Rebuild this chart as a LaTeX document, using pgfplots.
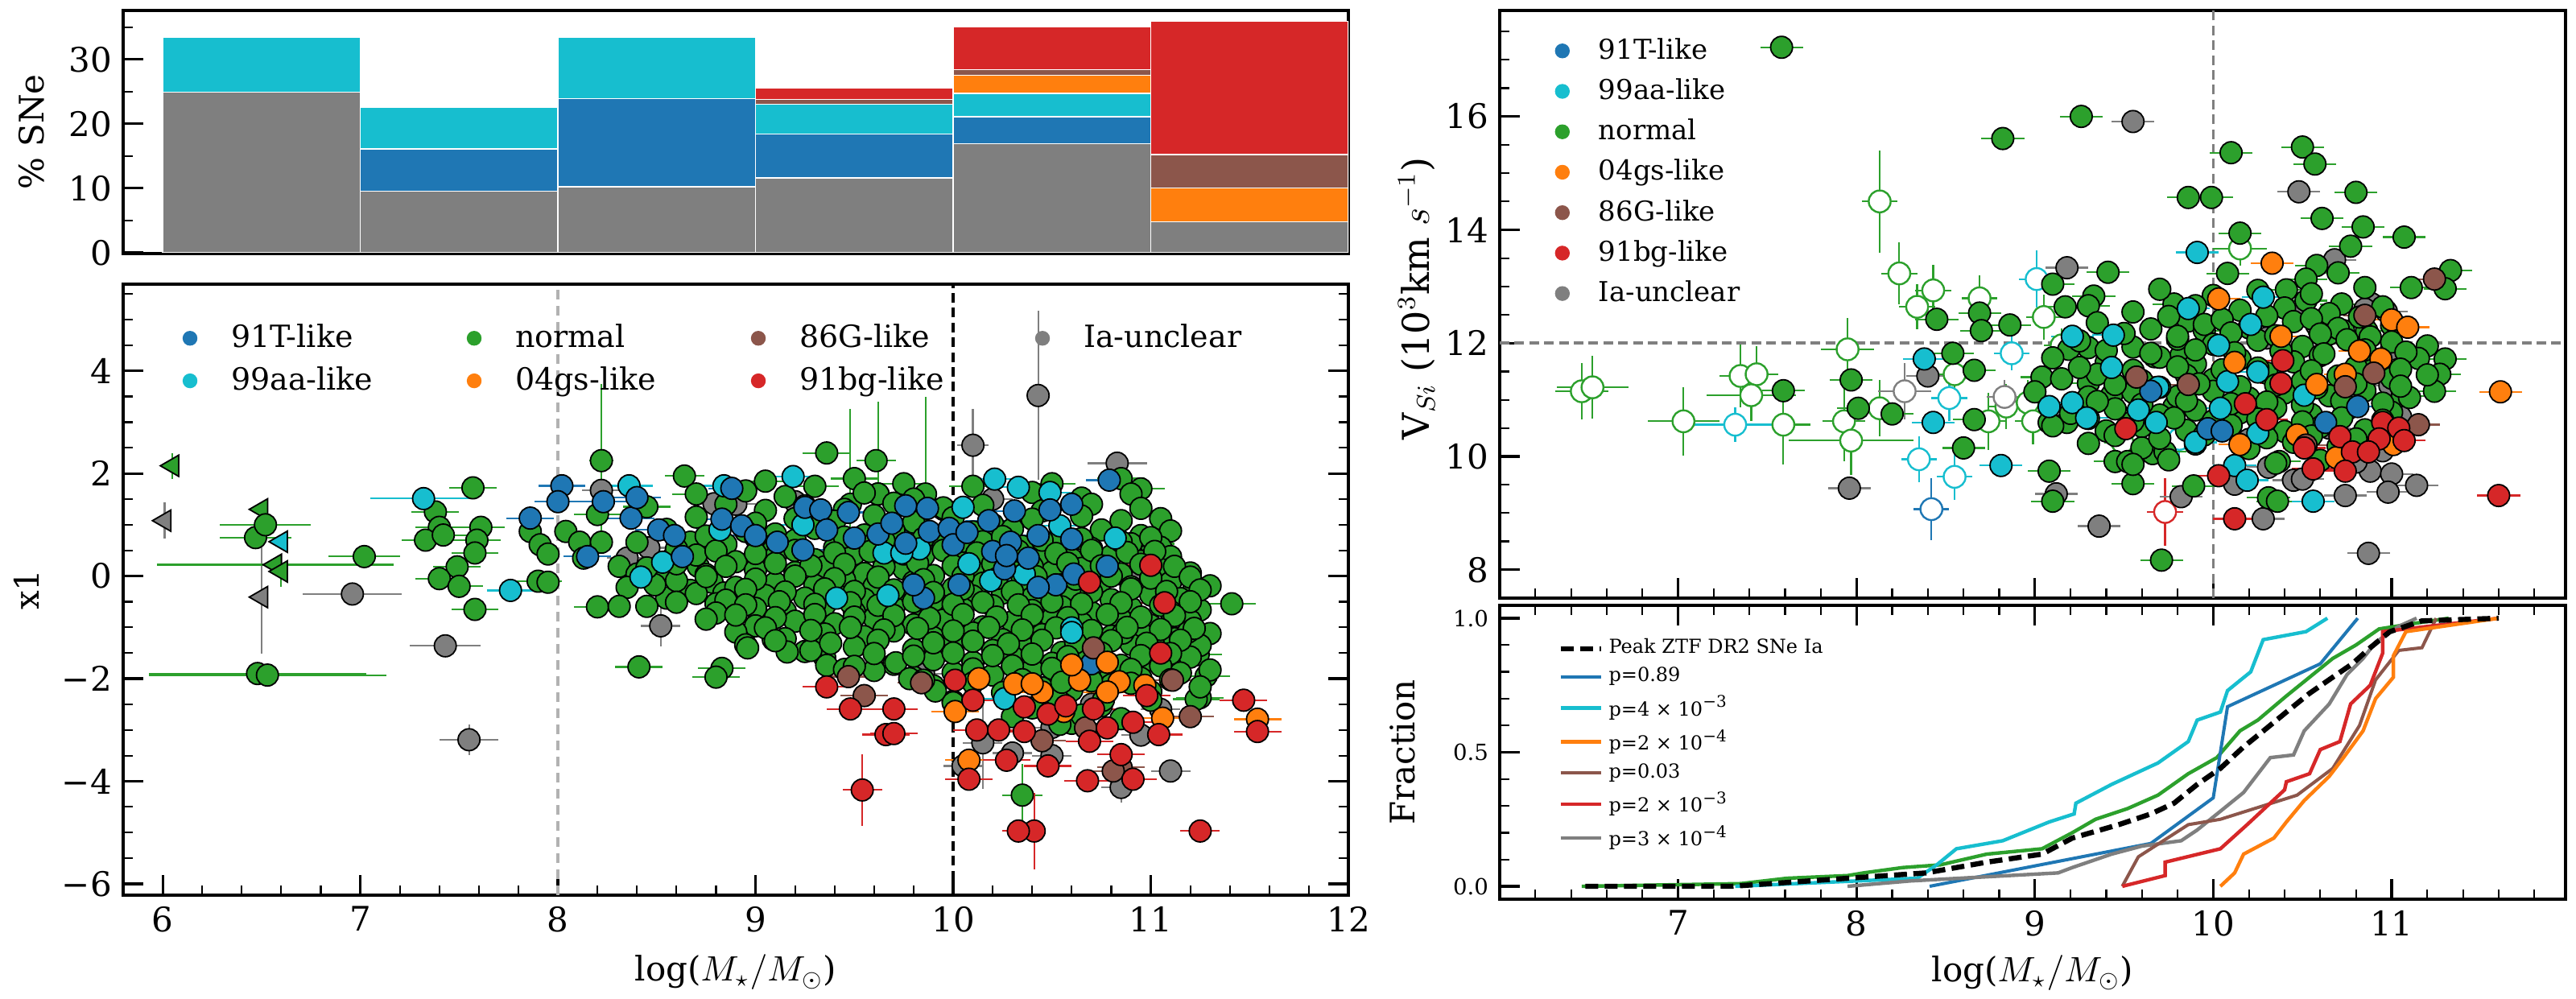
\documentclass[border=0pt]{standalone}
\usepackage{pgfplots}
\pgfplotsset{compat=1.18}
\usepackage{fontspec}
\setmainfont{DejaVu Serif}
\definecolor{c91T}{HTML}{1F77B4}
\definecolor{c99aa}{HTML}{17BECF}
\definecolor{cnorm}{HTML}{2CA02C}
\definecolor{c04gs}{HTML}{FF7F0E}
\definecolor{c86G}{HTML}{8C564B}
\definecolor{c91bg}{HTML}{D62728}
\definecolor{cunc}{HTML}{7F7F7F}
\pgfplotsset{
  base/.style={scale only axis, anchor=south west, axis line style={line width=1.1pt},
    tick align=inside, major tick length=6.2pt, minor tick length=3.1pt,
    every major tick/.append style={line width=0.8pt, black},
    every minor tick/.append style={line width=0.55pt, black},
    tick label style={font=\fontsize{10.5}{12}\selectfont},
    label style={font=\fontsize{10.5}{12}\selectfont},
    legend cell align=left,
    /pgf/number format/assume math mode=true},
  pts/.style={only marks, mark=*, mark size=3.4pt, color=#1, forget plot,
    mark options={draw=black, fill=#1, line width=0.45pt, solid}},
  ptsX/.style={only marks, mark=*, mark size=3.4pt, color=#1, forget plot,
    mark options={draw=black, fill=#1, line width=0.45pt, solid},
    error bars/.cd, x dir=both, x fixed=0.12, error mark=none,
    error bar style={color=#1, line width=0.55pt}},
  ptsE/.style={only marks, mark=*, mark size=3.4pt, color=#1, forget plot,
    mark options={draw=black, fill=#1, line width=0.45pt, solid},
    error bars/.cd, x dir=both, y dir=both, x explicit, y explicit, error mark=none,
    error bar style={color=#1, line width=0.55pt}},
  triE/.style={only marks, mark=triangle*, mark size=3.8pt, color=#1, forget plot,
    mark options={draw=black, fill=#1, line width=0.45pt, solid, rotate=90},
    error bars/.cd, x dir=both, y dir=both, x explicit, y explicit, error mark=none,
    error bar style={color=#1, line width=0.55pt}},
  opn/.style={only marks, mark=*, mark size=3.4pt, color=#1, forget plot,
    mark options={draw=#1, fill=white, line width=0.6pt, solid},
    error bars/.cd, x dir=both, y dir=both, x explicit, y explicit, error mark=none,
    error bar style={color=#1, line width=0.55pt}},
  dl/.style={legend image code/.code={\path[draw=none,fill=none] (0pt,-2.5pt) rectangle (10pt,2.5pt); \fill[#1,draw=none] (5pt,0pt) circle (2.3pt);}},
}
\begin{document}
\begin{tikzpicture}
\useasboundingbox (0,0) rectangle (800pt,310.25pt);
% ---------------- bar panel
\begin{axis}[base, at={(38.25pt,231.5pt)}, width=380.5pt, height=75.5pt,
  xmin=5.8, xmax=12, ymin=-0.15, ymax=37.6, xtick=\empty,
  ytick={0,10,20,30}, minor ytick={5,15,25,35}, ytick pos=both, yticklabel pos=left,
  ylabel={\% SNe}, ylabel style={at={(axis description cs:-0.075,0.5)}, anchor=center},
  ybar stacked, bar width=1]
\addplot[fill=cunc, draw=white, line width=0.35pt] coordinates {(6.5,24.9) (7.5,9.5) (8.5,10.2) (9.5,11.6) (10.5,16.9) (11.5,4.8)};
\addplot[fill=c91T, draw=white, line width=0.35pt] coordinates {(6.5,0) (7.5,6.6) (8.5,13.7) (9.5,6.8) (10.5,4.2) (11.5,0)};
\addplot[fill=c99aa, draw=white, line width=0.35pt] coordinates {(6.5,8.5) (7.5,6.5) (8.5,9.5) (9.5,4.6) (10.5,3.6) (11.5,0)};
\addplot[fill=c04gs, draw=white, line width=0.35pt] coordinates {(6.5,0) (7.5,0) (8.5,0) (9.5,0) (10.5,2.8) (11.5,5.2)};
\addplot[fill=c86G, draw=white, line width=0.35pt] coordinates {(6.5,0) (7.5,0) (8.5,0) (9.5,0.8) (10.5,0.9) (11.5,5.2)};
\addplot[fill=c91bg, draw=white, line width=0.35pt] coordinates {(6.5,0) (7.5,0) (8.5,0) (9.5,1.7) (10.5,6.6) (11.5,20.7)};
\end{axis}
% ---------------- x1 vs mass
\begin{axis}[base, at={(38.25pt,32.25pt)}, width=380.5pt, height=189.75pt,
  xmin=5.8, xmax=12, ymin=-6.22, ymax=5.69,
  xtick={6,...,12}, minor xtick={6,6.2,...,12}, xtick pos=bottom,
  ytick={-6,-4,-2,0,2,4}, yticklabels={−6,−4,−2,0,2,4}, minor ytick={-5.5,-5,...,5.5}, ytick pos=both, yticklabel pos=left,
  xlabel={log($M_\star/M_\odot$)}, xlabel style={at={(axis description cs:0.5,0)}, yshift=-24pt, anchor=center},
  ylabel={x1}, ylabel style={at={(axis description cs:-0.079,0.5)}, anchor=center},
  legend columns=4,
  legend style={at={(axis description cs:0.033,0.946)}, anchor=north west, draw=none, fill=none,
    font=\fontsize{9.5}{11}\selectfont, nodes={inner sep=0pt}, row sep=4.5pt,
    /tikz/every odd column/.append style={column sep=7.75pt},
    /tikz/every even column/.append style={column sep=10.5pt}}]
\addplot[forget plot, densely dashed, color=black!30, line width=1pt] coordinates {(8,-6.22) (8,5.69)};
\addplot[forget plot, dash pattern=on 3pt off 1.6pt, color=black, line width=1pt] coordinates {(10,-6.22) (10,5.69)};
% gray
\addplot[ptsE=cunc] coordinates {(6.96,-0.35) +- (0.25,0.1) (7.43,-1.36) +- (0.18,0.1) (7.55,-3.19) +- (0.15,0.3) (8.22,1.67) +- (0.1,0.1) (8.46,0.55) +- (0.1,0.1) (8.35,0.35) +- (0.1,0.1) (8.52,-0.97) +- (0.1,0.4) (8.79,1.41) +- (0.1,0.1) (9.62,1.6) +- (0.1,0.1) (9.82,1.5) +- (0.1,0.1) (10.1,2.55) +- (0.08,0.7) (10.83,2.2) +- (0.15,0.2) (10.85,-4.12) +- (0.1,0.3) (10.15,-3.25) +- (0.1,0.9) (10.95,-3.1) +- (0.1,0.2) (10.5,-2.95) +- (0.1,0.2) (10.3,-3.45) +- (0.1,0.2) (9.85,-1.9) +- (0.1,0.2) (10.2,1.5) +- (0.1,0.2) (10.9,-0.1) +- (0.1,0.2) (11.05,-2.6) +- (0.1,0.2) (10.7,-2.5) +- (0.1,0.2) (9.2,1.45) +- (0.1,0.2) (10.05,-3.7) +- (0.1,0.2) (10.5,-3.5) +- (0.1,0.2) (11.1,-3.8) +- (0.1,0.2) (10.92,-1.0) +- (0.1,0.2) (9.95,1.3) +- (0.1,0.2) (8.9,1.4) +- (0.1,0.2) (10.43,3.52) +- (0.06,1.65)};
\addplot[triE=cunc] coordinates {(6.01,1.08) +- (0,0.35) (6.5,-0.41) +- (0,1.1)};
% green
\addplot[triE=cnorm] coordinates {(6.05,2.15) +- (0,0.25) (6.5,1.3) +- (0,0.1) (6.57,0.22) +- (0.6,0.1) (6.6,0.09) +- (0,0.3)};
\addplot[ptsE=cnorm] coordinates {(6.47,0.75) +- (0.18,0.1) (6.52,1.0) +- (0.23,0.1) (7.02,0.38) +- (0.18,0.1) (6.48,-1.9) +- (0.55,0.1) (6.53,-1.93) +- (0.6,0.1) (8.22,2.25) +- (0.06,1.5) (9.48,1.4) +- (0.05,1.85) (9.62,1.6) +- (0.05,1.8) (9.86,1.6) +- (0.05,1.9) (9.36,2.4) +- (0.12,0.15) (9.61,2.25) +- (0.1,0.15) (8.64,1.95) +- (0.1,0.15) (10.35,-4.27) +- (0.1,0.6)};
\addplot[ptsX=cnorm] coordinates {(7.57,1.72) (7.38,1.25) (7.4,0.95) (7.33,0.7) (7.42,0.8) (7.61,0.95) (7.59,0.7) (7.58,0.45) (7.49,0.18) (7.4,-0.05) (7.5,-0.2) (7.58,-0.65) (7.9,-0.1) (8.2,-0.6) (8.41,-1.77) (8.83,-1.8) (8.8,-1.97) (11.41,-0.54) (11.22,-0.23) (11.0,0.63) (11.24,-1.53) (11.28,-1.95) (11.25,-2.37) (11.23,-2.4) (9.05,1.85) (9.3,1.75) (9.75,1.8) (10.1,1.75) (10.5,1.8) (10.85,1.9) (10.95,1.7) (9.5,1.9) (8.7,1.6) (8.45,1.35) (8.2,1.2)};
\addplot[pts=cnorm] coordinates {(7.86,0.87) (7.91,0.61) (7.95,0.43) (8.04,0.87) (8.11,0.66) (8.13,0.35) (8.22,0.66) (8.31,0.19) (8.4,0.04) (8.51,0.09) (8.58,0.35) (8.67,0.66) (8.71,0.19) (8.78,-0.12) (8.84,-0.33) (8.8,-0.54) (8.67,-0.28) (8.55,-0.43) (8.49,-0.17) (8.35,-0.22) (8.31,-0.59) (7.95,-0.12)
(8.95,1.66) (9.15,1.55) (9.55,1.62) (9.8,1.5) (10.4,1.63) (10.65,1.52) (10.9,1.6)
(8.85,1.4) (9.05,1.28) (9.25,1.37) (9.45,1.3) (9.7,1.42) (9.95,1.33) (10.15,1.38) (10.45,1.27) (10.7,1.4) (10.95,1.32)
(8.7,1.15) (9.0,1.03) (9.2,1.12) (9.4,1.07) (9.6,1.18) (9.8,1.05) (10.0,1.14) (10.2,1.01) (10.4,1.11) (10.65,1.17) (10.85,1.08) (11.05,1.12)
(8.55,0.91) (8.75,0.78) (8.95,0.87) (9.1,0.82) (9.3,0.93) (9.55,0.8) (9.7,0.89) (9.9,0.76) (10.1,0.86) (10.3,0.92) (10.55,0.83) (10.75,0.9) (10.95,0.79) (11.1,0.88)
(8.4,0.66) (8.6,0.53) (8.85,0.62) (9.05,0.57) (9.2,0.68) (9.4,0.55) (9.6,0.64) (9.8,0.51) (9.95,0.61) (10.15,0.67) (10.35,0.58) (10.5,0.65) (10.7,0.54) (10.9,0.63) (11.05,0.56)
(8.7,0.41) (8.9,0.28) (9.1,0.37) (9.3,0.32) (9.5,0.43) (9.65,0.3) (9.85,0.39) (10.05,0.26) (10.2,0.36) (10.45,0.42) (10.6,0.33) (10.8,0.4) (10.95,0.29) (11.1,0.38)
(8.45,0.16) (8.75,0.03) (9.0,0.12) (9.2,0.07) (9.35,0.18) (9.55,0.05) (9.75,0.14) (9.9,0.01) (10.1,0.11) (10.3,0.17) (10.5,0.08) (10.65,0.15) (10.85,0.04) (11.05,0.13) (11.2,0.06)
(8.6,-0.09) (8.9,-0.22) (9.1,-0.13) (9.3,-0.18) (9.45,-0.07) (9.6,-0.2) (9.8,-0.11) (10.0,-0.24) (10.15,-0.14) (10.35,-0.08) (10.55,-0.17) (10.75,-0.1) (10.9,-0.21) (11.1,-0.12) (11.3,-0.19)
(8.7,-0.34) (8.85,-0.47) (9.05,-0.38) (9.25,-0.43) (9.4,-0.32) (9.55,-0.45) (9.75,-0.36) (9.9,-0.49) (10.1,-0.39) (10.25,-0.33) (10.4,-0.42) (10.6,-0.35) (10.8,-0.46) (11.0,-0.37) (11.15,-0.44)
(8.45,-0.59) (8.8,-0.72) (9.0,-0.63) (9.15,-0.68) (9.35,-0.57) (9.5,-0.7) (9.7,-0.61) (9.85,-0.74) (10.05,-0.64) (10.2,-0.58) (10.4,-0.67) (10.55,-0.6) (10.7,-0.71) (10.9,-0.62) (11.1,-0.69) (11.25,-0.66)
(8.75,-0.84) (9.0,-0.97) (9.2,-0.88) (9.4,-0.93) (9.6,-0.82) (9.8,-0.95) (9.95,-0.86) (10.15,-0.99) (10.3,-0.89) (10.5,-0.83) (10.65,-0.92) (10.85,-0.85) (11.0,-0.96) (11.2,-0.87)
(8.9,-1.09) (9.15,-1.22) (9.35,-1.13) (9.55,-1.18) (9.7,-1.07) (9.9,-1.2) (10.1,-1.11) (10.25,-1.24) (10.45,-1.14) (10.6,-1.08) (10.8,-1.17) (10.95,-1.1) (11.15,-1.21) (11.3,-1.12)
(8.95,-1.34) (9.25,-1.47) (9.5,-1.38) (9.8,-1.43) (10.0,-1.32) (10.2,-1.45) (10.35,-1.36) (10.55,-1.49) (10.7,-1.39) (10.9,-1.33) (11.05,-1.42) (11.25,-1.35)
(9.35,-1.59) (9.7,-1.72) (9.9,-1.63) (10.1,-1.68) (10.3,-1.57) (10.5,-1.7) (10.65,-1.61) (10.85,-1.74) (11.0,-1.64) (11.2,-1.58)
(9.6,-1.84) (9.8,-1.97) (10.0,-1.88) (10.2,-1.93) (10.4,-1.82) (10.6,-1.95) (10.75,-1.86) (10.95,-1.99) (11.15,-1.89) (11.3,-1.83)
(9.9,-2.14) (10.25,-2.27) (10.45,-2.18) (10.6,-2.23) (10.8,-2.12) (11.0,-2.25) (11.25,-2.16)
(10.0,-2.44) (10.4,-2.57) (10.55,-2.48) (10.75,-2.53) (11.0,-2.42)
(10.3,-2.74) (10.6,-2.87) (10.85,-2.78)
(8.96,-1.4) (9.09,-1.24) (9.16,-1.48) (9.28,-1.45) (9.36,-1.74) (9.45,-1.82) (9.71,-1.69) (9.78,-2.0) (9.91,-2.24) (10.0,-2.47) (10.52,-2.32) (10.54,-2.89) (10.65,-2.71) (10.76,-2.42) (10.86,-1.11) (11.12,-1.22) (11.19,-1.09)
(9.0,0.75) (9.2,0.7) (9.45,0.76) (9.65,0.69) (9.85,0.74) (10.05,0.68) (10.25,0.77) (10.45,0.7) (10.65,0.73) (10.85,0.67) (11.0,0.75)
(8.8,0.49) (9.0,0.44) (9.2,0.5) (9.4,0.45) (9.58,0.48) (9.75,0.43) (9.95,0.5) (10.12,0.45) (10.33,0.49) (10.52,0.44) (10.7,0.5) (10.88,0.46) (11.02,0.48)
(8.6,0.24) (8.85,0.19) (9.1,0.25) (9.28,0.2) (9.45,0.23) (9.65,0.18) (9.82,0.25) (10.0,0.2) (10.2,0.24) (10.4,0.19) (10.58,0.25) (10.75,0.2) (10.95,0.23) (11.12,0.19)
(8.75,-0.01) (9.0,-0.06) (9.2,0.0) (9.4,-0.05) (9.62,-0.02) (9.85,-0.07) (10.05,0.0) (10.22,-0.05) (10.42,-0.01) (10.62,-0.06) (10.8,0.0) (11.0,-0.04) (11.2,-0.02)
(8.95,-0.26) (9.15,-0.31) (9.35,-0.25) (9.5,-0.3) (9.7,-0.27) (9.9,-0.32) (10.05,-0.25) (10.3,-0.3) (10.5,-0.26) (10.7,-0.31) (10.9,-0.25) (11.08,-0.3) (11.25,-0.27)
(8.6,-0.51) (8.95,-0.56) (9.12,-0.5) (9.3,-0.55) (9.48,-0.52) (9.62,-0.57) (9.8,-0.5) (10.0,-0.55) (10.15,-0.51) (10.33,-0.56) (10.5,-0.5) (10.65,-0.54) (10.85,-0.52) (11.05,-0.57) (11.2,-0.5)
(8.9,-0.76) (9.1,-0.81) (9.3,-0.75) (9.5,-0.8) (9.7,-0.77) (9.88,-0.82) (10.05,-0.75) (10.22,-0.8) (10.4,-0.76) (10.58,-0.81) (10.78,-0.75) (10.95,-0.8) (11.12,-0.77)
(9.05,-1.01) (9.28,-1.06) (9.48,-1.0) (9.65,-1.05) (9.82,-1.02) (10.0,-1.07) (10.18,-1.0) (10.35,-1.05) (10.52,-1.01) (10.7,-1.06) (10.88,-1.0) (11.05,-1.04) (11.22,-1.02)
(9.1,-1.26) (9.38,-1.31) (9.62,-1.25) (9.9,-1.3) (10.1,-1.27) (10.28,-1.32) (10.45,-1.25) (10.62,-1.3) (10.8,-1.26) (10.98,-1.31) (11.15,-1.25)
(9.6,-1.51) (9.8,-1.56) (10.0,-1.5) (10.2,-1.55) (10.4,-1.52) (10.58,-1.57) (10.75,-1.5) (10.95,-1.55) (11.1,-1.51)
(9.5,-1.76) (10.1,-1.81) (10.3,-1.75) (10.5,-1.8) (10.7,-1.77) (10.9,-1.82) (11.05,-1.75)
(9.85,-2.03) (10.1,-2.08) (10.35,-2.02) (10.55,-2.07) (10.7,-2.04) (10.9,-2.09) (11.1,-2.02)};
% cyan
\addplot[triE=c99aa] coordinates {(6.6,0.67) +- (0,0.1)};
\addplot[ptsE=c99aa] coordinates {(7.32,1.51) +- (0.27,0.1)};
\addplot[ptsX=c99aa] coordinates {(7.76,-0.28) (8.36,1.76) (8.42,-0.02) (8.53,0.27) (9.19,1.94) (8.84,1.76) (9.65,0.45) (9.67,-0.38) (9.41,-0.43) (10.05,1.34) (9.83,0.53) (9.74,0.45) (10.08,0.24) (10.21,1.89) (10.33,1.73) (10.49,1.63) (10.54,0.98) (10.82,0.74) (10.36,0.04) (10.6,-1.01) (10.19,-0.09) (9.24,1.0) (8.82,0.9) (10.26,-2.39) (10.6,-1.1)};
% blue
\addplot[ptsX=c91T] coordinates {(8.02,1.76) (8.0,1.45) (7.86,1.13) (8.15,0.38) (8.23,1.45) (8.37,1.13) (8.40,1.53) (8.51,0.90) (8.59,0.79) (8.63,0.38) (8.83,1.11) (8.88,1.71) (8.93,0.98) (9.0,0.79) (9.11,0.66) (9.24,0.51) (9.25,1.34) (9.33,1.29) (9.36,0.90) (9.47,1.24) (9.50,0.74) (9.62,0.82) (9.69,1.03) (9.76,1.37) (9.76,0.64) (9.87,1.32) (9.88,0.87) (9.98,0.93) (10.0,0.61) (10.07,0.85) (10.18,1.08) (10.2,0.48) (10.26,0.14) (10.29,0.66) (10.31,1.27) (10.38,0.35) (10.43,0.79) (10.49,1.29) (10.52,-0.17) (10.6,1.40) (10.6,0.72) (10.61,0.04) (10.78,0.19) (10.79,1.87) (10.03,-0.17) (9.85,-0.43) (9.8,-0.17) (10.43,-0.22) (10.27,0.40) (10.7,-1.71)};
% brown
\addplot[ptsX=c86G] coordinates {(9.47,-1.96) (9.55,-2.33) (9.84,-2.08) (10.45,-3.21) (10.67,-2.96) (11.2,-2.74) (11.11,-2.03) (10.71,-1.4) (10.85,-3.73) (10.81,-3.8)};
% orange
\addplot[ptsX=c04gs] coordinates {(10.01,-2.64) (10.13,-2.0) (10.31,-2.1) (10.45,-2.26) (10.56,-2.64) (11.06,-2.77) (10.97,-2.13) (10.84,-2.06) (10.78,-1.68) (10.64,-2.03) (10.6,-1.73) (10.78,-2.26) (10.08,-3.59) (11.54,-2.79) (10.4,-2.1)};
% red
\addplot[ptsE=c91bg] coordinates {(9.54,-4.17) +- (0.1,0.7) (10.41,-4.97) +- (0.05,0.75) (10.33,-4.97) +- (0.08,0.1) (11.25,-4.97) +- (0.1,0.1)};
\addplot[ptsX=c91bg] coordinates {(11.0,0.21) (11.07,-0.52) (10.69,-0.12) (11.05,-1.5) (9.36,-2.16) (9.48,-2.59) (9.7,-2.59) (9.66,-3.09) (9.7,-3.07) (10.08,-3.96) (10.27,-3.59) (10.48,-3.7) (10.68,-3.99) (10.91,-3.96) (10.85,-3.48) (10.36,-3.03) (10.23,-3.0) (10.12,-3.0) (10.1,-2.42) (10.01,-2.03) (10.36,-2.55) (10.48,-2.69) (10.69,-3.22) (10.78,-2.96) (10.91,-2.85) (11.04,-3.09) (10.98,-2.33) (10.71,-2.59) (10.57,-2.53) (11.47,-2.42) (11.54,-3.03)};
\addlegendimage{dl=c91T}\addlegendentry{\makebox[60pt][l]{91T-like}}
\addlegendimage{dl=cnorm}\addlegendentry{\makebox[60pt][l]{normal}}
\addlegendimage{dl=c86G}\addlegendentry{\makebox[60pt][l]{86G-like}}
\addlegendimage{dl=cunc}\addlegendentry{\makebox[60pt][l]{Ia-unclear}}
\addlegendimage{dl=c99aa}\addlegendentry{\makebox[60pt][l]{99aa-like}}
\addlegendimage{dl=c04gs}\addlegendentry{\makebox[60pt][l]{04gs-like}}
\addlegendimage{dl=c91bg}\addlegendentry{\makebox[60pt][l]{91bg-like}}
\end{axis}
% ---------------- V_Si vs mass
\begin{axis}[base, at={(465.75pt,124.5pt)}, width=331pt, height=182.5pt,
  xmin=6.0, xmax=11.975, ymin=7.5, ymax=17.87,
  xtick={7,...,11}, xticklabels={}, minor xtick={6,6.2,...,12}, xtick pos=bottom,
  ytick={8,10,...,16}, minor ytick={7.5,8,...,17.5}, ytick pos=left,
  ylabel={V$_{Si}$ (10$^3$km $s^{-1}$)}, ylabel style={font=\fontsize{11.5}{13}\selectfont, at={(axis description cs:-0.078,0.51)}, anchor=center},
  legend columns=1,
  legend style={at={(axis description cs:0.034,0.965)}, anchor=north west, draw=none, fill=none,
    font=\fontsize{8.5}{10}\selectfont, nodes={inner sep=0pt}, row sep=4.6pt,
    /tikz/every odd column/.append style={column sep=6.25pt}}]
\addplot[forget plot, dash pattern=on 3pt off 1.6pt, color=cunc, line width=0.9pt] coordinates {(10,7.5) (10,17.87)};
\addplot[forget plot, dash pattern=on 3pt off 1.6pt, color=cunc, line width=0.9pt] coordinates {(6,12) (11.975,12)};
% open
\addplot[opn=cnorm] coordinates {(6.46,11.15) +- (0.15,0.5) (6.52,11.22) +- (0.2,0.55) (7.03,10.62) +- (0.2,0.6) (7.35,11.42) +- (0.12,0.55) (7.44,11.45) +- (0.12,0.5) (7.41,11.08) +- (0.25,0.45) (7.59,10.56) +- (0.15,0.7) (7.95,11.89) +- (0.15,0.55) (7.93,10.62) +- (0.12,0.7) (7.97,10.28) +- (0.35,0.6) (8.13,14.5) +- (0.1,0.9) (8.24,13.23) +- (0.1,0.55) (8.43,12.93) +- (0.1,0.45) (8.34,12.64) +- (0.1,0.4) (8.69,12.79) +- (0.1,0.4) (9.05,12.46) +- (0.1,0.4) (8.55,11.45) +- (0.1,0.4) (8.74,10.62) +- (0.1,0.5) (8.84,10.88) +- (0.1,0.4) (8.96,10.95) +- (0.1,0.4) (8.99,10.62) +- (0.1,0.4) (8.13,10.85) +- (0.1,0.5) (10.15,13.67) +- (0.15,0.3) (9.49,10.25) +- (0.1,0.3) (9.15,11.96) +- (0.1,0.3)};
\addplot[opn=c99aa] coordinates {(7.32,10.56) +- (0.25,0.3) (9.01,13.13) +- (0.1,0.5) (8.87,11.82) +- (0.1,0.3) (8.52,11.03) +- (0.1,0.4) (8.35,9.95) +- (0.1,0.4) (8.55,9.64) +- (0.1,0.4) (9.81,10.31) +- (0.1,0.3)};
\addplot[opn=c91T] coordinates {(8.42,9.07) +- (0.1,0.55)};
\addplot[opn=cunc] coordinates {(8.27,11.15) +- (0.15,0.5) (8.83,11.05) +- (0.1,0.3)};
\addplot[opn=c91bg] coordinates {(9.73,9.02) +- (0.1,0.6)};
% filled
\addplot[ptsX=cunc] coordinates {(9.55,15.91) (10.48,14.67) (10.68,13.47) (9.18,13.33) (10.89,12.69) (10.97,12.56) (10.49,12.53) (10.58,12.31) (10.3,12.09) (8.4,11.42) (10.99,11.25) (10.31,9.81) (10.88,9.74) (11.0,9.69) (10.12,9.51) (10.45,9.58) (11.14,9.49) (7.96,9.44) (9.12,9.34) (9.82,9.29) (10.74,9.31) (10.98,9.37) (10.28,8.9) (9.36,8.77) (10.87,8.29) (10.85,12.6) (11.0,11.9) (10.95,10.1) (10.8,9.9) (10.5,9.6) (10.2,10.3) (10.75,11.1) (11.05,10.7) (10.65,10.5)};
\addplot[ptsX=cnorm] coordinates {(7.58,17.22) (8.82,15.61) (9.26,16.0) (10.1,15.36) (10.5,15.46) (10.57,15.16) (10.8,14.66) (9.86,14.57) (9.99,14.57) (10.61,14.2) (10.84,14.05) (10.15,13.94) (11.07,13.87) (10.77,13.71) (10.58,13.37) (10.7,13.24) (11.33,13.28) (9.41,13.25) (9.1,13.04) (10.08,13.23) (11.11,12.98) (11.3,12.96) (10.41,12.94) (10.52,13.13) (9.33,12.83) (9.3,12.66) (9.17,12.64) (10.52,12.75) (10.72,12.69) (9.78,12.69) (8.45,12.42) (8.69,12.53) (8.7,12.22) (8.86,12.32) (9.86,12.39) (9.95,12.22) (10.65,12.16) (10.86,12.22) (10.73,12.22) (9.3,11.92) (9.19,11.89) (8.54,11.82) (11.3,11.72) (9.67,11.76) (9.82,11.79) (8.66,11.52) (11.27,11.45) (7.97,11.35) (9.04,11.4) (7.59,11.16) (9.3,11.29) (9.43,11.08) (11.24,11.15) (11.06,11.07) (8.01,10.85) (8.2,10.75) (9.78,10.88) (8.66,10.65) (9.08,10.6) (9.18,10.6) (8.6,10.15) (9.45,9.91) (9.52,9.91) (9.66,10.05) (9.73,10.08) (9.08,9.74) (10.37,9.91) (9.55,9.52) (9.89,9.48) (9.1,9.21) (10.31,9.27) (10.36,9.21) (9.71,8.17)};
\addplot[pts=cnorm] coordinates {(9.7,12.95) (10.0,12.84) (10.25,12.93) (10.55,12.87) (10.85,12.98)
(9.55,12.55) (9.9,12.66) (10.15,12.58) (10.4,12.62) (10.65,12.52) (10.95,12.64)
(9.35,12.36) (9.65,12.25) (9.95,12.33) (10.2,12.27) (10.45,12.38) (10.7,12.26) (11.0,12.31)
(9.25,12.04) (9.55,11.93) (9.8,12.07) (10.0,11.98) (10.25,12.05) (10.5,11.94) (10.75,12.06) (11.0,12.02) (11.2,11.95)
(9.1,11.74) (9.4,11.66) (9.7,11.75) (9.9,11.63) (10.15,11.72) (10.45,11.67) (10.6,11.78) (10.9,11.65) (11.15,11.73)
(9.15,11.37) (9.35,11.45) (9.6,11.34) (9.85,11.43) (10.0,11.36) (10.3,11.47) (10.5,11.33) (10.7,11.42) (11.0,11.38) (11.2,11.44)
(9.0,11.14) (9.3,11.05) (9.55,11.13) (9.8,11.06) (10.0,11.15) (10.2,11.03) (10.4,11.12) (10.65,11.07) (10.85,11.16) (11.1,11.04)
(9.2,10.76) (9.45,10.84) (9.7,10.73) (9.9,10.82) (10.15,10.77) (10.35,10.86) (10.55,10.74) (10.75,10.83) (11.0,10.78)
(9.1,10.54) (9.4,10.45) (9.6,10.53) (9.85,10.46) (10.1,10.55) (10.4,10.44) (10.6,10.52) (10.85,10.47)
(9.3,10.23) (9.6,10.15) (9.9,10.22) (10.2,10.14) (10.45,10.25) (10.7,10.18)
(9.55,9.86) (9.75,9.94) (10.35,9.88) (10.6,9.93)
(9.75,12.47) (10.05,12.42) (10.3,12.48) (10.55,12.43) (10.82,12.46)
(9.5,12.17) (9.8,12.12) (10.1,12.18) (10.35,12.13) (10.6,12.16) (10.88,12.11)
(9.4,11.87) (9.65,11.82) (9.9,11.88) (10.12,11.83) (10.38,11.86) (10.62,11.81) (10.85,11.88) (11.08,11.84)
(9.25,11.57) (9.55,11.52) (9.8,11.58) (10.05,11.53) (10.25,11.56) (10.55,11.51) (10.8,11.58) (11.05,11.54)
(9.45,11.27) (9.7,11.22) (9.92,11.28) (10.15,11.23) (10.35,11.26) (10.58,11.21) (10.8,11.28) (11.05,11.24)
(9.35,10.97) (9.6,10.92) (9.85,10.98) (10.1,10.93) (10.3,10.96) (10.5,10.91) (10.72,10.98) (10.95,10.94)
(9.3,10.67) (9.55,10.62) (9.78,10.68) (10.0,10.63) (10.25,10.66) (10.5,10.61) (10.72,10.68) (10.95,10.64)
(9.45,10.37) (9.7,10.32) (9.95,10.38) (10.3,10.33) (10.55,10.36) (10.8,10.31)};
\addplot[ptsX=c99aa] coordinates {(9.91,13.6) (10.28,12.81) (9.86,12.61) (10.21,12.33) (9.21,12.12) (9.44,12.14) (10.03,11.96) (8.38,11.72) (9.43,11.57) (10.25,11.49) (10.08,11.32) (9.69,11.22) (10.51,11.08) (9.08,10.88) (9.21,10.95) (9.58,10.82) (10.04,10.85) (8.43,10.6) (9.29,10.68) (9.68,10.6) (10.25,10.41) (9.9,10.25) (10.12,9.84) (8.81,9.84) (10.19,9.58) (10.56,9.21)};
\addplot[ptsX=c91T] coordinates {(9.65,11.15) (10.81,10.88) (10.63,10.6) (9.97,10.49) (10.05,10.45)};
\addplot[ptsX=c04gs] coordinates {(10.33,13.41) (10.03,12.78) (11.0,12.41) (11.09,12.28) (10.38,12.12) (10.82,11.86) (10.94,11.72) (10.12,11.66) (10.74,11.45) (10.58,11.27) (11.61,11.14) (10.47,10.38) (10.15,10.21) (11.01,10.21) (10.69,9.98)};
\addplot[ptsX=c86G] coordinates {(11.24,13.13) (10.85,12.49) (9.57,11.4) (9.86,11.27) (10.9,11.47) (10.74,11.23) (11.15,10.56) (10.52,10.2)};
\addplot[ptsX=c91bg] coordinates {(10.39,11.69) (10.38,11.29) (10.18,10.93) (10.3,10.65) (10.95,10.6) (11.04,10.5) (9.51,10.49) (10.71,10.35) (10.93,10.31) (11.07,10.28) (10.51,10.15) (10.78,10.08) (10.87,10.08) (10.56,9.78) (10.74,9.74) (10.03,9.66) (11.6,9.31) (10.12,8.9)};
\addlegendimage{dl=c91T}\addlegendentry{91T-like}
\addlegendimage{dl=c99aa}\addlegendentry{99aa-like}
\addlegendimage{dl=cnorm}\addlegendentry{normal}
\addlegendimage{dl=c04gs}\addlegendentry{04gs-like}
\addlegendimage{dl=c86G}\addlegendentry{86G-like}
\addlegendimage{dl=c91bg}\addlegendentry{91bg-like}
\addlegendimage{dl=cunc}\addlegendentry{Ia-unclear}
\end{axis}
% ---------------- CDF
\begin{axis}[base, at={(465.75pt,31pt)}, width=331pt, height=91.25pt,
  xmin=6.0, xmax=11.975, ymin=-0.048, ymax=1.048,
  xtick={7,...,11}, minor xtick={6,6.2,...,12}, xtick pos=both, xticklabel pos=bottom,
  ytick={0,0.5,1}, minor ytick={0.1,0.2,0.3,0.4,0.6,0.7,0.8,0.9}, ytick pos=left,
  yticklabel style={font=\fontsize{6.9}{8}\selectfont, /pgf/number format/.cd, fixed, fixed zerofill, precision=1},
  xlabel={log($M_\star/M_\odot$)}, xlabel style={at={(axis description cs:0.5,0)}, yshift=-23pt, anchor=center},
  ylabel={Fraction}, ylabel style={at={(axis description cs:-0.091,0.5)}, anchor=center},
  legend image code/.code={\draw[#1] (0pt,0pt) -- (12.7pt,0pt);},
  legend style={at={(axis description cs:0.045,0.91)}, anchor=north west, draw=none, fill=none,
    font=\fontsize{6.0}{7}\selectfont, nodes={inner sep=0pt}, row sep=2.8pt,
    /tikz/every odd column/.append style={column sep=1.5pt}}]
\addplot[forget plot, cnorm, line width=1.1pt] coordinates {(6.46,0) (7.35,0.01) (7.61,0.03) (7.95,0.04) (8.04,0.05) (8.26,0.07) (8.47,0.08) (8.73,0.12) (9.04,0.14) (9.21,0.2) (9.34,0.25) (9.52,0.29) (9.69,0.34) (9.86,0.42) (10.02,0.48) (10.15,0.58) (10.25,0.62) (10.41,0.71) (10.54,0.78) (10.67,0.85) (10.8,0.9) (10.93,0.96) (11.12,0.98) (11.32,1.0)};
\addplot[forget plot, c99aa, line width=1.1pt] coordinates {(7.32,0) (8.34,0.03) (8.45,0.08) (8.56,0.14) (8.82,0.17) (9.08,0.24) (9.22,0.27) (9.23,0.31) (9.43,0.38) (9.69,0.46) (9.86,0.54) (9.91,0.62) (10.04,0.65) (10.08,0.73) (10.21,0.8) (10.28,0.92) (10.52,0.95) (10.64,1.0)};
\addplot[forget plot, c91T, line width=1pt] coordinates {(8.41,0) (9.65,0.16) (10.0,0.33) (10.08,0.67) (10.6,0.83) (10.81,1.0)};
\addplot[forget plot, cunc, line width=1.1pt] coordinates {(7.95,0) (8.3,0.02) (9.13,0.05) (9.21,0.07) (9.43,0.12) (9.6,0.15) (9.82,0.17) (9.91,0.21) (10.04,0.28) (10.17,0.35) (10.32,0.48) (10.45,0.49) (10.51,0.58) (10.65,0.68) (10.75,0.79) (10.84,0.85) (10.91,0.91) (11.04,0.97) (11.14,1.0)};
\addplot[forget plot, c86G, line width=1pt] coordinates {(9.49,0) (9.58,0.11) (9.86,0.23) (10.04,0.25) (10.47,0.34) (10.67,0.44) (10.82,0.6) (10.91,0.77) (11.04,0.88) (11.17,0.89) (11.25,1.0)};
\addplot[forget plot, c91bg, line width=1.1pt] coordinates {(9.49,0) (9.73,0.04) (9.73,0.09) (10.04,0.14) (10.19,0.23) (10.4,0.36) (10.41,0.39) (10.54,0.42) (10.6,0.51) (10.71,0.54) (10.77,0.68) (10.88,0.75) (10.95,0.87) (10.95,0.95) (11.6,1.0)};
\addplot[forget plot, c04gs, line width=1.1pt] coordinates {(10.04,0) (10.12,0.05) (10.17,0.12) (10.34,0.18) (10.41,0.24) (10.51,0.32) (10.65,0.41) (10.73,0.48) (10.84,0.58) (10.91,0.7) (11.01,0.78) (11.01,0.86) (11.08,0.95) (11.6,1.0)};
\addplot[forget plot, black, line width=1.6pt, dash pattern=on 4pt off 2pt] coordinates {(6.48,0) (7.3,0.0) (7.95,0.03) (8.39,0.05) (8.73,0.09) (9.04,0.12) (9.21,0.18) (9.47,0.23) (9.65,0.27) (9.78,0.31) (9.91,0.38) (10.04,0.44) (10.17,0.52) (10.3,0.59) (10.41,0.65) (10.54,0.72) (10.67,0.78) (10.78,0.83) (10.88,0.89) (10.99,0.95) (11.17,0.99) (11.6,1.0)};
\addlegendimage{black, line width=1.6pt, dash pattern=on 4pt off 2pt}\addlegendentry{Peak ZTF DR2 SNe Ia}
\addlegendimage{c91T, line width=1pt}\addlegendentry{p=0.89}
\addlegendimage{c99aa, line width=1.1pt}\addlegendentry{p=4 × 10\textsuperscript{−3}}
\addlegendimage{c04gs, line width=1.1pt}\addlegendentry{p=2 × 10\textsuperscript{−4}}
\addlegendimage{c86G, line width=1pt}\addlegendentry{p=0.03}
\addlegendimage{c91bg, line width=1.1pt}\addlegendentry{p=2 × 10\textsuperscript{−3}}
\addlegendimage{cunc, line width=1.1pt}\addlegendentry{p=3 × 10\textsuperscript{−4}}
\end{axis}
\end{tikzpicture}
\end{document}
